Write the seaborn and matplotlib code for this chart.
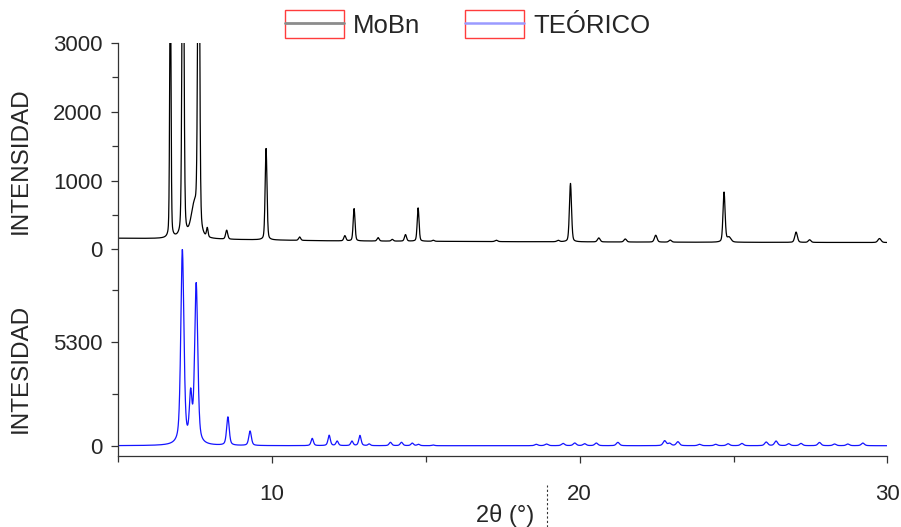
import numpy as np
import pandas as pd
import matplotlib
matplotlib.use("Agg")
import matplotlib.pyplot as plt
import seaborn as sns
from matplotlib.lines import Line2D
from matplotlib.patches import Rectangle
from matplotlib.legend_handler import HandlerLine2D
from matplotlib.ticker import FixedLocator, MultipleLocator

# ---------------------------------------------------------------- data
# 2-theta scan range (degrees) and step
theta_start = 5.0
theta_stop = 30.0
theta_step = 0.005

# Measured MoBn pattern: reflections (position, net height, FWHM)
mobn_pos = [6.70, 7.11, 7.48, 7.62, 7.90, 8.53, 9.81, 10.90, 12.37, 12.67,
            13.45, 13.91, 14.34, 14.75, 15.24, 17.29, 19.30, 19.70, 20.62,
            21.48, 22.47, 22.94, 24.69, 24.85, 27.03, 27.47, 29.74]
mobn_height = [4000, 6000, 450, 6000, 130, 130, 1330, 50, 75, 470,
               50, 25, 95, 485, 15, 20, 20, 850, 58,
               44, 100, 30, 725, 70, 150, 38, 58]
mobn_fwhm = [0.05, 0.07, 0.25, 0.07, 0.06, 0.08, 0.07, 0.08, 0.08, 0.07,
             0.08, 0.08, 0.08, 0.07, 0.08, 0.10, 0.10, 0.08, 0.10,
             0.10, 0.10, 0.10, 0.08, 0.15, 0.10, 0.10, 0.12]
mobn_eta = 0.3
# Background level of the measured pattern
mobn_bkg_theta = [5.0, 8.0, 12.0, 18.0, 24.0, 30.0]
mobn_bkg_level = [160, 145, 122, 110, 102, 98]

# Calculated (theoretical) pattern: reflections (position, height, FWHM)
teo_pos = [7.09, 7.36, 7.54, 8.57, 9.29, 11.31, 11.86, 12.12, 12.60, 12.86,
           13.16, 13.85, 14.21, 14.56, 14.76, 15.24, 18.59, 18.92, 19.46,
           19.84, 20.16, 20.54, 21.24, 22.76, 22.92, 23.19, 23.89, 24.42,
           24.82, 25.27, 26.06, 26.38, 26.79, 27.19, 27.79, 28.28, 28.71,
           29.20]
teo_height = [9900, 2300, 8150, 1450, 740, 370, 530, 230, 230, 520,
              85, 170, 170, 130, 70, 35, 70, 85, 115,
              135, 100, 135, 170, 250, 115, 200, 70, 70,
              100, 115, 185, 235, 100, 115, 165, 85, 85,
              135]
teo_fwhm = [0.12, 0.10, 0.12, 0.10, 0.10, 0.09, 0.09, 0.09, 0.09, 0.09,
            0.09, 0.10, 0.10, 0.10, 0.10, 0.10, 0.12, 0.12, 0.12,
            0.12, 0.12, 0.12, 0.12, 0.12, 0.12, 0.12, 0.12, 0.12,
            0.12, 0.12, 0.12, 0.12, 0.12, 0.12, 0.12, 0.12, 0.12,
            0.12]
teo_eta = 0.5

# Axis ticks
top_yticks = [0, 1000, 2000, 3000]
bottom_yticks = [0, 5300]
x_ticks = [10, 20, 30]

series_labels = ["MoBn", "TEÓRICO"]


# ---------------------------------------------------------------- profiles
def pseudo_voigt(x, pos, height, fwhm, eta):
    d = 2.0 * (x - pos) / fwhm
    return height * (eta / (1.0 + d ** 2) + (1.0 - eta) * np.exp(-np.log(2) * d ** 2))


two_theta = np.arange(theta_start, theta_stop + theta_step / 2, theta_step)

mobn_counts = np.interp(two_theta, mobn_bkg_theta, mobn_bkg_level)
for p, h, w in zip(mobn_pos, mobn_height, mobn_fwhm):
    mobn_counts = mobn_counts + pseudo_voigt(two_theta, p, h, w, mobn_eta)

teo_counts = np.zeros_like(two_theta)
for p, h, w in zip(teo_pos, teo_height, teo_fwhm):
    teo_counts = teo_counts + pseudo_voigt(two_theta, p, h, w, teo_eta)

df_mobn = pd.DataFrame({"two_theta": two_theta, "intensity": mobn_counts})
df_teo = pd.DataFrame({"two_theta": two_theta, "intensity": teo_counts})

# ---------------------------------------------------------------- figure
sns.set_style("ticks")
plt.rcParams["font.family"] = ["Liberation Sans", "DejaVu Sans"]
plt.rcParams["axes.linewidth"] = 0.9

fig = plt.figure(figsize=(9.01, 5.27), dpi=100)
ax_top = fig.add_axes([0.131, 0.527, 0.854, 0.3913])
ax_bot = fig.add_axes([0.131, 0.1347, 0.854, 0.3923], sharex=ax_top)

sns.lineplot(data=df_mobn, x="two_theta", y="intensity", ax=ax_top,
             color="black", linewidth=0.9, estimator=None, sort=False)
sns.lineplot(data=df_teo, x="two_theta", y="intensity", ax=ax_bot,
             color="#1414ff", linewidth=0.9, estimator=None, sort=False)

ax_bot.set_xlim(theta_start, theta_stop)

# upper panel: left axis only
ax_top.set_ylim(0, 3000)
for s in ["top", "right", "bottom"]:
    ax_top.spines[s].set_visible(False)
ax_top.yaxis.set_major_locator(FixedLocator(top_yticks))
ax_top.yaxis.set_minor_locator(MultipleLocator(500))
ax_top.tick_params(axis="x", which="both", bottom=False, labelbottom=False)
ax_top.set_xlabel("")

# lower panel: left and bottom axes
ax_bot.set_ylim(-525, 10020)
for s in ["top", "right"]:
    ax_bot.spines[s].set_visible(False)
ax_bot.yaxis.set_major_locator(FixedLocator(bottom_yticks))
ax_bot.yaxis.set_minor_locator(FixedLocator([2650, 7950]))
ax_bot.xaxis.set_major_locator(FixedLocator(x_ticks))
ax_bot.xaxis.set_minor_locator(FixedLocator([5, 15, 25]))
ax_bot.set_xticklabels([str(t) for t in x_ticks])

for ax in (ax_top, ax_bot):
    ax.tick_params(axis="both", which="major", direction="out", length=5,
                   width=0.9, labelsize=16, pad=6, color="#333333")
    ax.tick_params(axis="both", which="minor", direction="out", length=4,
                   width=0.9, color="#333333")
    ax.spines["left"].set_color("#333333")
ax_bot.spines["bottom"].set_color("#333333")
ax_bot.tick_params(axis="x", which="major", pad=15)

label_font = ["Liberation Sans Narrow", "Liberation Sans", "DejaVu Sans"]
ax_top.set_ylabel("INTENSIDAD", fontsize=17.5, family=label_font)
ax_bot.set_ylabel("INTESIDAD", fontsize=17.5, family=label_font)
ax_top.yaxis.set_label_coords(-0.112, 0.43)
ax_bot.yaxis.set_label_coords(-0.112, 0.426)

ax_bot.set_xlabel("2θ (°)", fontsize=17)
ax_bot.xaxis.set_label_coords(0.503, -0.232)


# ---------------------------------------------------------------- legend
class BoxedLineHandler(HandlerLine2D):
    """Legend line sample drawn inside a red frame."""

    def create_artists(self, legend, orig_handle, xdescent, ydescent,
                       width, height, fontsize, trans):
        arts = super().create_artists(legend, orig_handle, xdescent, ydescent,
                                      width, height, fontsize, trans)
        frame = Rectangle((-xdescent, -ydescent - 0.1 * height), width, 1.2 * height,
                          fill=False, edgecolor="#ff3c3c", linewidth=1.0,
                          transform=trans)
        return [frame] + list(arts)


handles = [Line2D([], [], color="#8c8c8c", linewidth=2.0),
           Line2D([], [], color="#9a9aff", linewidth=1.8)]
fig.legend(handles, series_labels, loc="center", bbox_to_anchor=(0.519, 0.952),
           ncol=2, frameon=False, fontsize=18.5, handlelength=2.3,
           handleheight=1.0, handletextpad=0.35, columnspacing=1.75,
           handler_map={Line2D: BoxedLineHandler()})

# dashed guide under the axis title
fig.add_artist(Line2D([0.607, 0.607], [0.0, 0.08], transform=fig.transFigure,
                      color="#333333", linewidth=0.8, linestyle=(0, (2, 2))))

fig.savefig("out.png", dpi=100)
